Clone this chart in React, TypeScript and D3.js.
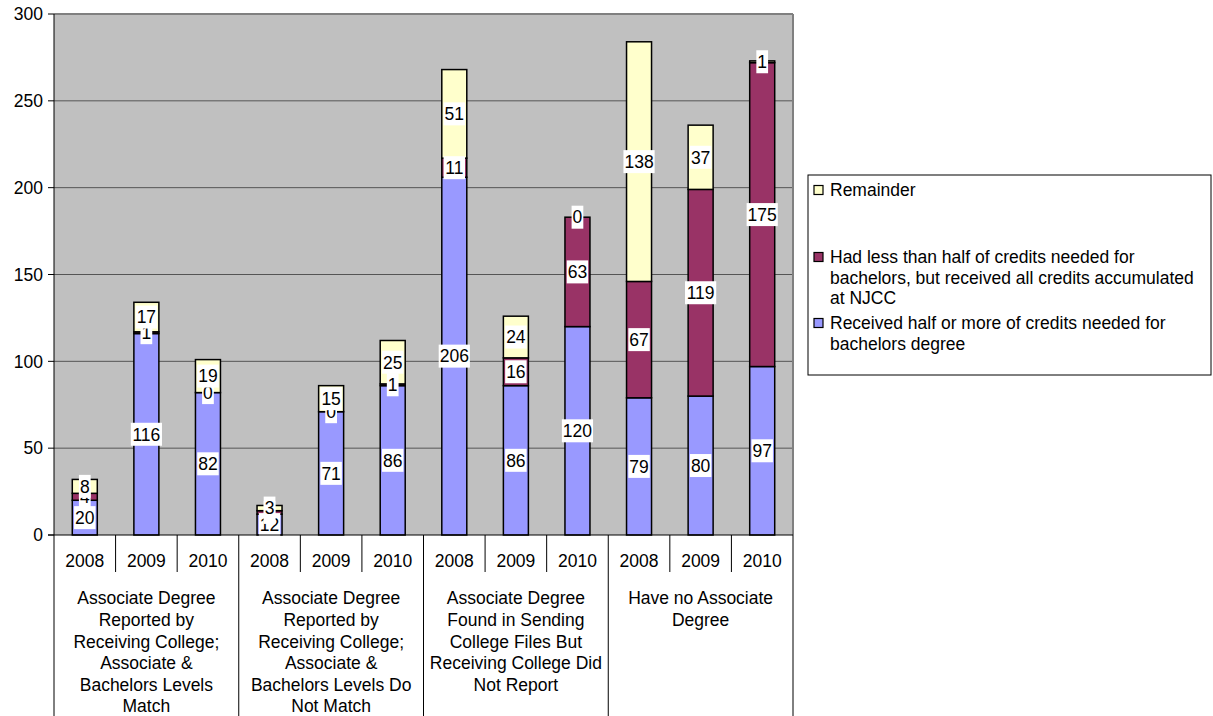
import React from "react";
import * as d3 from "d3";

const groups = [
  ["Associate Degree", "Reported by", "Receiving College;", "Associate &", "Bachelors Levels", "Match"],
  ["Associate Degree", "Reported by", "Receiving College;", "Associate &", "Bachelors Levels Do", "Not Match"],
  ["Associate Degree", "Found in Sending", "College Files But", "Receiving College Did", "Not Report"],
  ["Have no Associate", "Degree"],
];
const years = ["2008", "2009", "2010"];
const received = [20, 116, 82, 12, 71, 86, 206, 86, 120, 79, 80, 97];
const lessHalf = [4, 1, 0, 2, 0, 1, 11, 16, 63, 67, 119, 175];
const remainder = [8, 17, 19, 3, 15, 25, 51, 24, 0, 138, 37, 1];
const yTicks = [0, 50, 100, 150, 200, 250, 300];

const seriesNames = [
  "Received half or more of credits needed for bachelors degree",
  "Had less than half of credits needed for bachelors, but received all credits accumulated at NJCC",
  "Remainder",
];
const colors = ["#9999FF", "#993366", "#FFFFCC"];

const font = "Liberation Sans, Arial, sans-serif";
const FS = 17.5;

export default function App() {
  const left = 54, right = 793, top = 14, bottom = 535;
  const n = received.length;
  const x = d3.scaleBand<number>().domain(d3.range(n)).range([left, right]).paddingInner(0).paddingOuter(0);
  const y = d3.scaleLinear().domain([0, 300]).range([bottom, top]);
  const bw = 25;

  const data = d3.range(n).map((i) => ({ i, r: received[i], l: lessHalf[i], m: remainder[i] }));
  const stack = d3.stack<any>().keys(["r", "l", "m"])(data);

  const labelW = (s: string) => s.length * FS * 0.556 + 2;

  return (
    <svg width={1213} height={716} style={{ position: "fixed", left: 0, top: 0, background: "#fff" }} fontFamily={font}>
      <rect x={left} y={top} width={right - left} height={bottom - top} fill="#C0C0C0" />
      {yTicks.map((t) => (
        <g key={t}>
          {t > 0 && <line x1={left} x2={right} y1={y(t)} y2={y(t)} stroke={t === 300 ? "#808080" : "#555"} strokeWidth={t === 300 ? 2 : 1} />}
          <line x1={left - 6} x2={left} y1={y(t)} y2={y(t)} stroke="#000" />
          <text x={43} y={y(t)} dy="0.36em" textAnchor="end" fontSize={FS}>{t}</text>
        </g>
      ))}
      <line x1={right} x2={right} y1={top} y2={bottom} stroke="#808080" strokeWidth={2} />
      {stack.map((s, si) =>
        s.map((d, i) => (
          <rect key={`${si}-${i}`} x={x(i)! + x.bandwidth() / 2 - bw / 2} width={bw} y={y(d[1])} height={Math.max(0, y(d[0]) - y(d[1]))}
            fill={colors[si]} stroke="#000" strokeWidth={1.5} />
        ))
      )}
      {stack.map((s, si) =>
        s.map((d, i) => {
          const v = d[1] - d[0];
          const cy = (y(d[0]) + y(d[1])) / 2;
          const cx = x(i)! + x.bandwidth() / 2;
          const str = String(v);
          const w = labelW(str);
          return (
            <g key={`l${si}-${i}`}>
              <rect x={cx - w / 2} y={cy - 11.5} width={w} height={23} fill="#fff" />
              <text x={cx} y={cy} dy="0.36em" textAnchor="middle" fontSize={FS}>{str}</text>
            </g>
          );
        })
      )}
      {/* axis */}
      <line x1={left} x2={left} y1={top} y2={716} stroke="#000" />
      <line x1={left - 6} x2={right} y1={bottom} y2={bottom} stroke="#000" />
      {d3.range(n).map((i) => (
        <g key={`yr${i}`}>
          {i > 0 && (
            <line x1={x(i)} x2={x(i)} y1={bottom} y2={i % 3 === 0 ? 716 : 572} stroke="#000" />
          )}
          <text x={x(i)! + x.bandwidth() / 2} y={561} dy="0.36em" textAnchor="middle" fontSize={FS}>{years[i % 3]}</text>
        </g>
      ))}
      <line x1={right} x2={right} y1={bottom} y2={716} stroke="#000" />
      {groups.map((g, gi) => {
        const cx = x(gi * 3)! + (x.bandwidth() * 3) / 2;
        return (
          <text key={`g${gi}`} textAnchor="middle" fontSize={FS}>
            {g.map((ln, li) => (
              <tspan key={li} x={cx} y={598 + li * 21.6} dy="0.36em">{ln}</tspan>
            ))}
          </text>
        );
      })}
      {/* legend */}
      <rect x={808} y={175} width={403} height={200} fill="#fff" stroke="#000" strokeWidth={1} />
      {[
        { si: 2, lines: ["Remainder"], y0: 190 },
        { si: 1, lines: ["Had less than half of credits needed for", "bachelors, but received all credits accumulated", "at NJCC"], y0: 257 },
        { si: 0, lines: ["Received half or more of credits needed for", "bachelors degree"], y0: 323 },
      ].map((it) => (
        <g key={`lg${it.si}`}>
          <rect x={814} y={it.y0 - 4.5} width={9} height={9} fill={colors[it.si]} stroke="#000" strokeWidth={1.2} />
          <text fontSize={FS}>
            {it.lines.map((ln, li) => (
              <tspan key={li} x={830} y={it.y0 + li * 20.5} dy="0.36em">{ln}</tspan>
            ))}
          </text>
        </g>
      ))}
    </svg>
  );
}
